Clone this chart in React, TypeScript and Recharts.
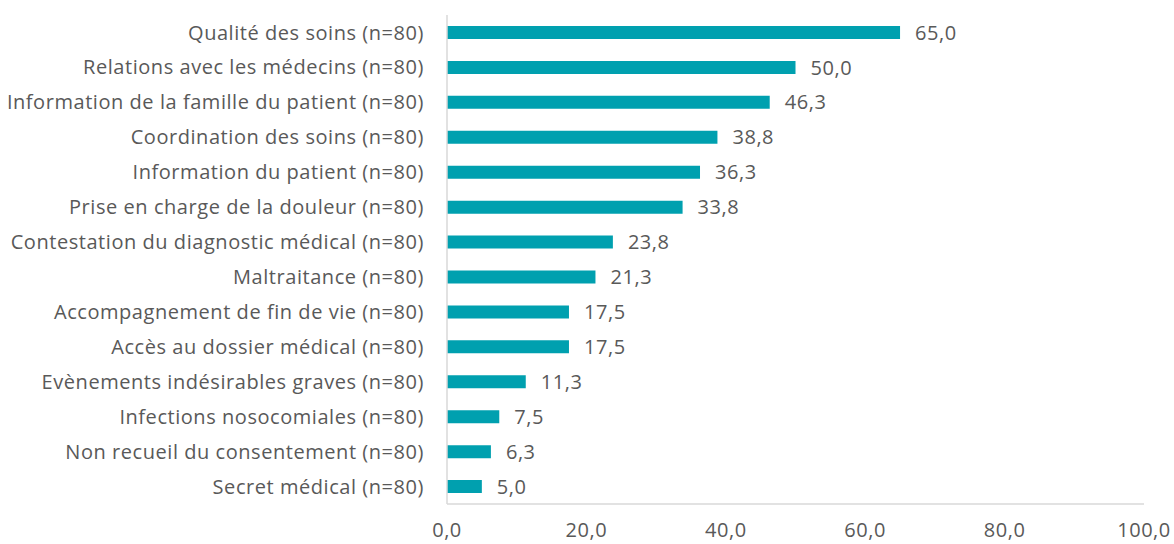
import React from "react";
import { BarChart, Bar, XAxis, YAxis, LabelList } from "recharts";

const categories = [
  "Qualité des soins (n=80)",
  "Relations avec les médecins (n=80)",
  "Information de la famille du patient (n=80)",
  "Coordination des soins (n=80)",
  "Information du patient (n=80)",
  "Prise en charge de la douleur (n=80)",
  "Contestation du diagnostic médical (n=80)",
  "Maltraitance (n=80)",
  "Accompagnement de fin de vie (n=80)",
  "Accès au dossier médical (n=80)",
  "Evènements indésirables graves (n=80)",
  "Infections nosocomiales (n=80)",
  "Non recueil du consentement (n=80)",
  "Secret médical (n=80)",
];
const values = [65.0, 50.0, 46.3, 38.8, 36.3, 33.8, 23.8, 21.3, 17.5, 17.5, 11.3, 7.5, 6.3, 5.0];
const xTicks = [0, 20, 40, 60, 80, 100];

const data = categories.map((c, i) => ({ name: c, value: values[i] }));
const fmt = (v: number) => v.toFixed(1).replace(".", ",");
const FONT = "'Open Sans', sans-serif";
const TXT = "#595959";
const textStyle = { fill: TXT, fontSize: 20, fontFamily: FONT, letterSpacing: 0.55 };

export default function App() {
  return (
    <div style={{ position: "absolute", left: 0, top: 0, background: "#fff" }}>
      <BarChart
        width={1174}
        height={544}
        data={data}
        layout="vertical"
        margin={{ top: 15, right: 30, bottom: 0, left: 0 }}
      >
        <XAxis
          type="number"
          domain={[0, 100]}
          ticks={xTicks}
          tickFormatter={fmt}
          axisLine={{ stroke: "#d9d9d9", strokeWidth: 1.5 }}
          tickLine={false}
          tickSize={0}
          tickMargin={19}
          height={40}
          tick={textStyle}
        />
        <YAxis
          type="category"
          dataKey="name"
          width={447}
          axisLine={{ stroke: "#d9d9d9", strokeWidth: 1.5 }}
          tickLine={false}
          tickSize={0}
          tickMargin={23}
          interval={0}
          tick={textStyle}
        />
        <Bar dataKey="value" fill="#00A0AF" barSize={13} isAnimationActive={false}>
          <LabelList
            dataKey="value"
            position="right"
            offset={15}
            formatter={(v: number) => fmt(v)}
            style={textStyle}
          />
        </Bar>
      </BarChart>
    </div>
  );
}
